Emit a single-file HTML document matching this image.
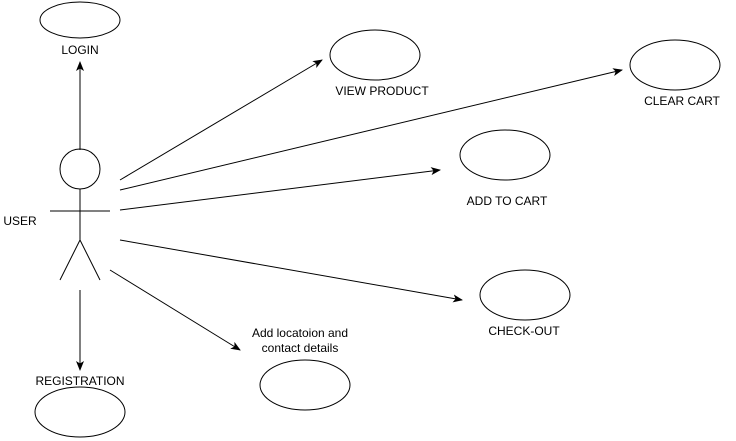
<!DOCTYPE html>
<html><head><meta charset="utf-8"><style>body{margin:0;background:#fff}svg{display:block}text{font-family:"Liberation Sans",Arial,sans-serif;font-size:12px;fill:#000}</style></head><body>
<svg width="736" height="441" viewBox="0 0 736 441" xmlns="http://www.w3.org/2000/svg">
<defs><marker id="a" markerWidth="10" markerHeight="8" refX="9" refY="4" orient="auto" markerUnits="userSpaceOnUse"><path d="M0,0 L10,4 L0,8 L2.5,4 Z" fill="#000"/></marker></defs>
<g fill="#fff" stroke="#000" stroke-width="1">
<ellipse cx="80" cy="20" rx="40" ry="18"/>
<ellipse cx="375" cy="55" rx="45" ry="25"/>
<ellipse cx="675" cy="65" rx="45" ry="25"/>
<ellipse cx="505" cy="155" rx="45" ry="25"/>
<ellipse cx="525" cy="295" rx="45" ry="25"/>
<ellipse cx="305" cy="385" rx="45" ry="25"/>
<ellipse cx="80" cy="412" rx="45" ry="25"/>
<circle cx="80" cy="169" r="20"/>
</g>
<g stroke="#000" stroke-width="1" fill="none">
<line x1="80" y1="189" x2="80" y2="240"/>
<line x1="50" y1="211" x2="110" y2="211"/>
<line x1="80" y1="240" x2="60" y2="280"/>
<line x1="80" y1="240" x2="100" y2="280"/>
<line x1="80" y1="150" x2="80" y2="62" marker-end="url(#a)"/>
<line x1="80" y1="290" x2="80" y2="370" marker-end="url(#a)"/>
<line x1="120" y1="180" x2="322" y2="60" marker-end="url(#a)"/>
<line x1="120" y1="190" x2="622" y2="70" marker-end="url(#a)"/>
<line x1="120" y1="210" x2="440" y2="170" marker-end="url(#a)"/>
<line x1="120" y1="240" x2="462" y2="300" marker-end="url(#a)"/>
<line x1="110" y1="270" x2="240" y2="350" marker-end="url(#a)"/>
</g>
<g text-anchor="middle">
<text x="80" y="54">LOGIN</text>
<text x="382" y="95">VIEW PRODUCT</text>
<text x="682" y="105">CLEAR CART</text>
<text x="507" y="205">ADD TO CART</text>
<text x="524" y="335">CHECK-OUT</text>
<text x="300" y="337">Add locatoion and</text>
<text x="300" y="352">contact details</text>
<text x="80" y="385">REGISTRATION</text>
<text x="20" y="225">USER</text>
</g>
</svg>
</body></html>
